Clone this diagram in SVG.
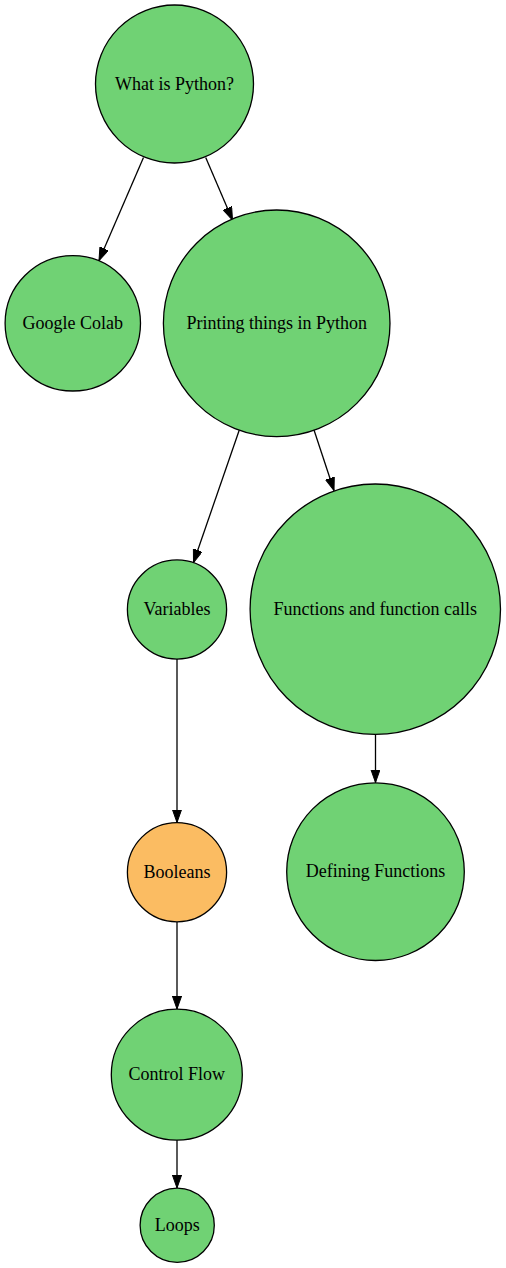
<svg xmlns="http://www.w3.org/2000/svg" width="506" height="1268" viewBox="0 0 506 1268">
<style>
.n{fill:#70d274;stroke:#000;stroke-width:1.3}
.o{fill:#fbbc62;stroke:#000;stroke-width:1.3}
text{font-family:"Liberation Serif","Times New Roman",serif;font-size:18px;text-anchor:middle;fill:#000}
.e{stroke:#000;stroke-width:1.3;fill:none;marker-end:url(#a)}
</style>
<defs>
<marker id="a" markerUnits="userSpaceOnUse" markerWidth="14" markerHeight="10" refX="13" refY="4.6" orient="auto">
<path d="M0,0 L13,4.6 L0,9.2 z" fill="#000" stroke="#000" stroke-width="1"/>
</marker>
</defs>
<rect width="506" height="1268" fill="#fff"/>
<g id="edges">
<line class="e" x1="143.5" y1="157.5" x2="99" y2="260.5"/>
<line class="e" x1="205.7" y1="157.5" x2="232.5" y2="220"/>
<line class="e" x1="239.3" y1="430" x2="193.5" y2="562.5"/>
<line class="e" x1="314" y1="430" x2="334" y2="490.5"/>
<line class="e" x1="177" y1="659" x2="177" y2="822.5"/>
<line class="e" x1="375.5" y1="734.5" x2="375.5" y2="782.5"/>
<line class="e" x1="177" y1="922" x2="177" y2="1009"/>
<line class="e" x1="177" y1="1140" x2="177" y2="1188"/>
</g>
<g id="n1"><circle class="n" cx="174.5" cy="84" r="79"/><text x="174.5" y="89.5">What is Python?</text></g>
<g id="n2"><circle class="n" cx="72.8" cy="323.3" r="67.7"/><text x="72.8" y="328.8">Google Colab</text></g>
<g id="n3"><circle class="n" cx="276.7" cy="323.3" r="113.3"/><text x="276.7" y="328.8">Printing things in Python</text></g>
<g id="n4"><circle class="n" cx="177" cy="609.5" r="49.6"/><text x="177" y="615">Variables</text></g>
<g id="n5"><circle class="n" cx="375.3" cy="609.2" r="125.2"/><text x="375.3" y="614.7">Functions and function calls</text></g>
<g id="n6"><circle class="o" cx="177" cy="872.2" r="49.6"/><text x="177" y="877.7">Booleans</text></g>
<g id="n7"><circle class="n" cx="375.5" cy="871.7" r="88.8"/><text x="375.5" y="877.2">Defining Functions</text></g>
<g id="n8"><circle class="n" cx="176.8" cy="1074.7" r="65.5"/><text x="176.8" y="1080.2">Control Flow</text></g>
<g id="n9"><circle class="n" cx="177.2" cy="1225.3" r="37.1"/><text x="177.2" y="1230.8">Loops</text></g>
</svg>
